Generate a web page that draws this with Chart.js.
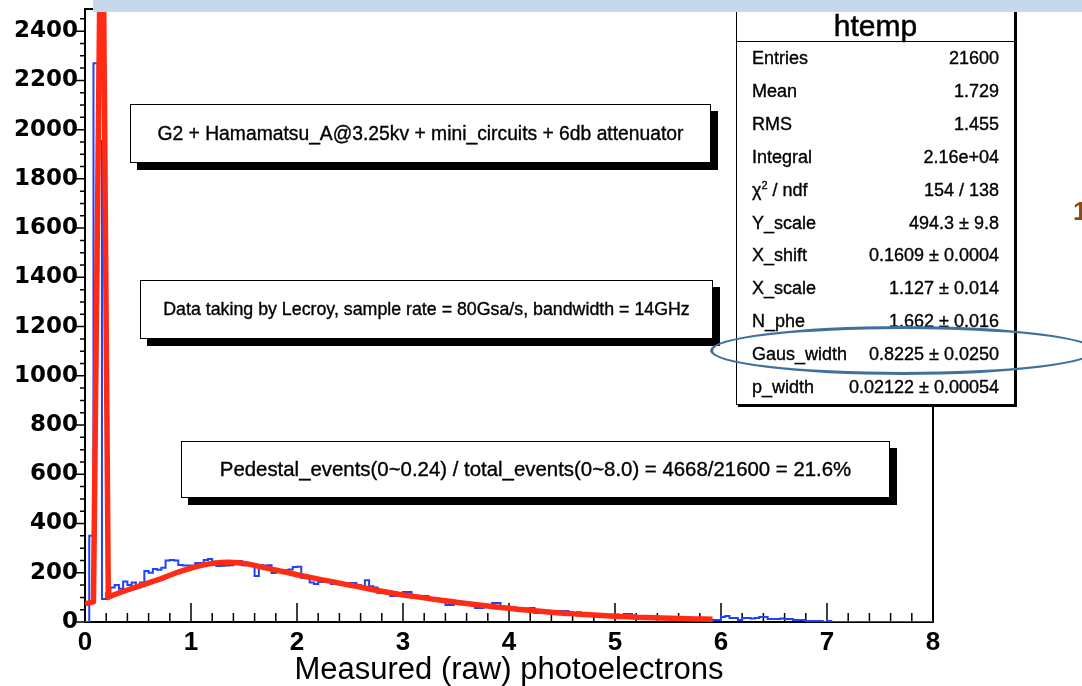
<!DOCTYPE html>
<html>
<head>
<meta charset="utf-8">
<script src="https://cdn.jsdelivr.net/npm/chart.js@4.4.1/dist/chart.umd.min.js"></script>
<style>
  body { margin: 0; background: #fff; }
  #wrap { position: relative; width: 1082px; height: 686px; overflow: hidden; font-family: "Liberation Sans", Arial, sans-serif; color: #000; }
  #c { position: absolute; left: 0; top: 0; }
  .pave { position: absolute; background: #fff; border: 1.5px solid #000; box-shadow: 7px 7px 0 #000; display: flex; align-items: center; justify-content: center; white-space: nowrap; -webkit-text-stroke: 0.35px #000; }
  #band { position: absolute; left: 93px; top: 0; width: 989px; height: 12px; background: #c6d8eb; }
  #stats { position: absolute; left: 736px; top: 2px; width: 277px; height: 401px; background: #fff; border: 1.5px solid #000; box-shadow: 2px 2px 0 #000; }
  #stats .sep { position: absolute; left: 0; right: 0; top: 38px; border-top: 1.5px solid #000; }
  #stats .title { position: absolute; left: 0; right: 0; top: 6px; text-align: center; font-size: 30px; line-height: 34px; -webkit-text-stroke: 0.5px #000; }
  .row { position: absolute; font-size: 18px; line-height: 20px; white-space: nowrap; -webkit-text-stroke: 0.35px #000; }
  .row sup { font-size: 11px; vertical-align: 7px; line-height: 0; }
  #ring { position: absolute; left: 710px; top: 326px; width: 380px; height: 43px; border: 3.5px solid #41709c; border-radius: 50%; }
  #edge1 { position: absolute; left: 1073px; top: 196px; font-size: 26px; font-weight: bold; color: #8a4a10; }
</style>
</head>
<body>
<div id="wrap">
  <canvas id="c" width="1082" height="686"></canvas>
  <div class="pave" style="left:130px;top:104px;width:579px;height:57px;font-size:19.3px;">G2 + Hamamatsu_A@3.25kv + mini_circuits + 6db attenuator</div>
  <div class="pave" style="left:140px;top:280px;width:571px;height:57px;font-size:17.8px;">Data taking by Lecroy, sample rate = 80Gsa/s, bandwidth = 14GHz</div>
  <div class="pave" style="left:181px;top:441px;width:707px;height:55px;font-size:20.4px;">Pedestal_events(0~0.24) / total_events(0~8.0) = 4668/21600 = 21.6%</div>
  <div id="stats"><div class="title">htemp</div><div class="sep"></div></div>
  <div id="band"></div>
  <div id="edge1">1</div>
  <div id="ring"></div>
</div>
<script>
// axis ticks
const xTicks = [0, 1, 2, 3, 4, 5, 6, 7, 8];
const yTicks = [0, 200, 400, 600, 800, 1000, 1200, 1400, 1600, 1800, 2000, 2200, 2400];

// histogram htemp: 200 bins of 0.04 from 0 to 8
const binWidth = 0.04;
const histCounts = [
  0, 0, 350, 2270, 1955, 93, 118, 140, 150, 135,
  165, 150, 160, 140, 160, 207, 200, 215, 212, 220,
  250, 252, 250, 232, 230, 230, 228, 240, 240, 252,
  256, 245, 227, 228, 230, 231, 248, 248, 231, 232,
  228, 187, 231, 230, 231, 199, 211, 211, 210, 213,
  223, 224, 179, 179, 160, 154, 162, 162, 165, 154,
  154, 158, 154, 158, 158, 150, 140, 170, 145, 140,
  118, 118, 120, 106, 108, 110, 122, 122, 98, 98,
  100, 106, 96, 92, 90, 88, 69, 69, 82, 78,
  77, 77, 72, 57, 57, 65, 62, 77, 77, 57,
  57, 55, 58, 49, 49, 55, 57, 37, 42, 40,
  38, 40, 45, 45, 45, 38, 35, 40, 33, 30,
  30, 29, 30, 27, 26, 24, 30, 26, 32, 32,
  26, 22, 22, 24, 20, 22, 18, 16, 16, 18,
  15, 14, 14, 12, 14, 10, 8, 8, 4, 8,
  8, 20, 24, 16, 16, 8, 16, 16, 14, 16,
  20, 20, 12, 12, 12, 14, 12, 12, 8, 8,
  8, 4, 4, 4, 4, 0, 4, 0, 0, 0,
  0, 0, 0, 0, 0, 0, 0, 0, 0, 0,
  0, 0, 0, 0, 0, 0, 0, 0, 0, 0
];

// fit curve: pedestal peak, then the photoelectron tail sampled every 0.08
const fitPeakX = [0, 0.08, 0.16, 0.22];
const fitPeakY = [74, 82, 3400, 100];
const fitTailStart = 0.24;
const fitTailStep = 0.08;
const fitTailY = [
  105, 118, 130, 142, 153, 165, 176, 190, 203, 214,
  224, 232, 238, 242, 243, 241, 237, 230, 222, 215,
  207, 200, 192, 185, 178, 171, 165, 158, 151, 145,
  138, 131, 125, 119, 113, 108, 103, 98, 93, 88,
  84, 79, 75, 71, 67, 63, 59, 56, 52, 49,
  46, 43, 40, 37, 35, 32, 30, 28, 26, 24,
  22, 21, 19, 18, 17, 16, 15, 14, 13, 12,
  12, 11
];

// stats box
const statLabels = ['Entries', 'Mean', 'RMS', 'Integral', '&chi;<sup>2</sup> / ndf', 'Y_scale', 'X_shift', 'X_scale', 'N_phe', 'Gaus_width', 'p_width'];
const statValues = ['21600', '1.729', '1.455', '2.16e+04', '154 / 138', '494.3 &plusmn; 9.8', '0.1609 &plusmn; 0.0004', '1.127 &plusmn; 0.014', '1.662 &plusmn; 0.016', '0.8225 &plusmn; 0.0250', '0.02122 &plusmn; 0.00054'];

const wrap = document.getElementById('wrap');
const ring = document.getElementById('ring');
statLabels.forEach((lab, i) => {
  const top = 48 + i * 32.9;
  const l = document.createElement('div');
  l.className = 'row';
  l.style.left = '752px';
  l.style.top = top + 'px';
  l.innerHTML = lab;
  wrap.insertBefore(l, ring);
  const v = document.createElement('div');
  v.className = 'row';
  v.style.right = '83px';
  v.style.top = top + 'px';
  v.innerHTML = statValues[i];
  wrap.insertBefore(v, ring);
});

const histPoints = histCounts.map((c, i) => ({ x: i * binWidth, y: c }));
histPoints.push({ x: histCounts.length * binWidth, y: histCounts[histCounts.length - 1] });

const fitPoints = fitPeakX.map((x, i) => ({ x: x, y: fitPeakY[i] }));
fitTailY.forEach((v, i) => fitPoints.push({ x: fitTailStart + i * fitTailStep, y: v }));

// ROOT style frame with minor ticks
const rootFrame = {
  id: 'rootFrame',
  beforeDatasetsDraw(chart) {
    const { ctx, chartArea: a, scales: { x, y } } = chart;
    ctx.save();
    ctx.strokeStyle = '#000';
    ctx.lineWidth = 2;
    ctx.strokeRect(a.left, a.top, a.right - a.left, a.bottom - a.top);
    ctx.lineWidth = 1.5;
    ctx.beginPath();
    for (let v = 0; v <= y.max; v += 50) {
      const py = y.getPixelForValue(v);
      const len = v % 200 === 0 ? 9 : 5;
      ctx.moveTo(a.left - len, py);
      ctx.lineTo(a.left, py);
    }
    for (let i = 0; i <= 40; i++) {
      const px = x.getPixelForValue(i * 0.2);
      const len = i % 5 === 0 ? 19 : 9;
      ctx.moveTo(px, a.bottom);
      ctx.lineTo(px, a.bottom - len);
    }
    ctx.stroke();
    ctx.restore();
  }
};

new Chart(document.getElementById('c'), {
  type: 'line',
  data: {
    datasets: [
      {
        label: 'fit',
        data: fitPoints,
        borderColor: '#ff2b14',
        borderWidth: 5.5,
        pointRadius: 0,
        tension: 0,
        borderJoinStyle: 'round'
      },
      {
        label: 'htemp',
        data: histPoints,
        borderColor: '#1e40ff',
        borderWidth: 2,
        pointRadius: 0,
        stepped: 'after'
      }
    ]
  },
  options: {
    responsive: false,
    animation: false,
    devicePixelRatio: 1,
    layout: { padding: { top: 9, right: 149, left: 0, bottom: 0 } },
    plugins: { legend: { display: false }, tooltip: { enabled: false } },
    scales: {
      x: {
        type: 'linear',
        min: 0,
        max: 8,
        afterBuildTicks: s => { s.ticks = xTicks.map(v => ({ value: v })); },
        afterFit: s => { s.height = 64; s.paddingLeft = 0; s.paddingRight = 0; },
        grid: { display: false, drawTicks: false },
        border: { display: false },
        ticks: { padding: 5, color: '#000', callback: v => String(v), font: { family: 'Liberation Sans', size: 26, weight: 'bold' } },
        title: {
          display: true,
          text: 'Measured (raw) photoelectrons',
          color: '#000',
          font: { family: 'Liberation Sans', size: 31, lineHeight: 1 },
          padding: { top: 0, bottom: 0 }
        }
      },
      y: {
        type: 'linear',
        min: 0,
        max: 2490,
        afterBuildTicks: s => { s.ticks = yTicks.map(v => ({ value: v })); },
        afterFit: s => { s.width = 85; s.paddingTop = 0; s.paddingBottom = 0; },
        grid: { display: false, drawTicks: false },
        border: { display: false },
        ticks: { padding: 7, color: '#000', callback: v => String(v), font: { family: 'DejaVu Sans', size: 23, weight: 'bold' } }
      }
    }
  },
  plugins: [rootFrame]
});
</script>
</body>
</html>
